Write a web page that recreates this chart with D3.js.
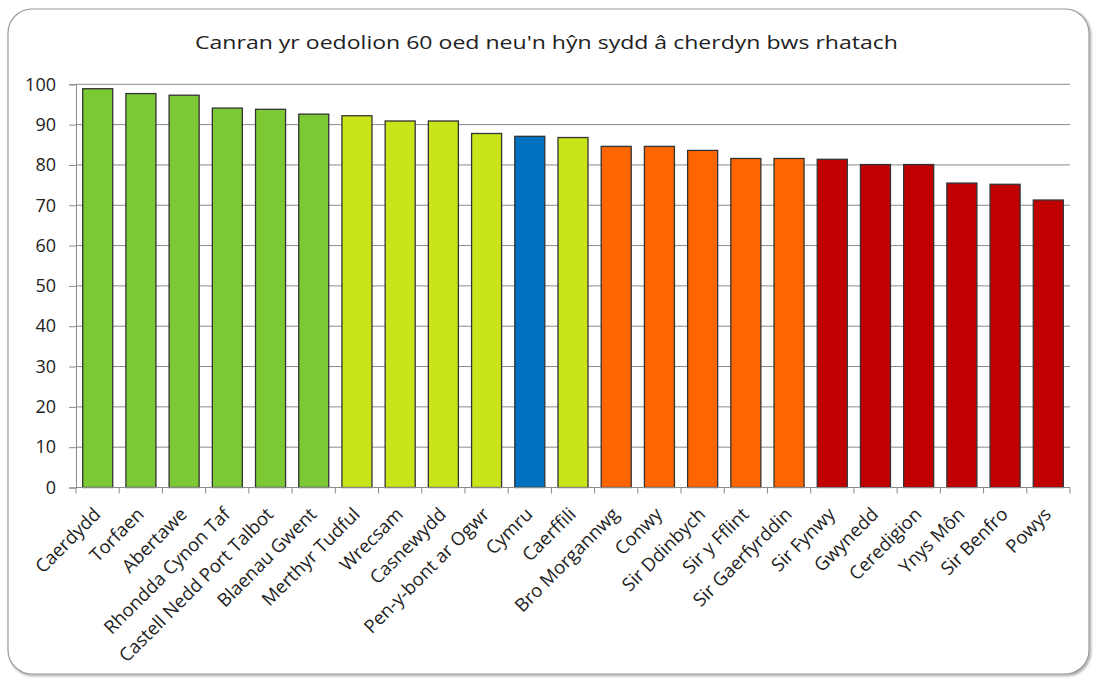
<!DOCTYPE html>
<html><head><meta charset="utf-8">
<script src="https://cdn.jsdelivr.net/npm/d3@7"></script>
<style>body{margin:0;background:#fff}</style>
</head><body>
<svg id="c" width="1100" height="680"></svg>
<script>
const categories = ["Caerdydd","Torfaen","Abertawe","Rhondda Cynon Taf","Castell Nedd Port Talbot","Blaenau Gwent","Merthyr Tudful","Wrecsam","Casnewydd","Pen-y-bont ar Ogwr","Cymru","Caerffili","Bro Morgannwg","Conwy","Sir Ddinbych","Sir y Fflint","Sir Gaerfyrddin","Sir Fynwy","Gwynedd","Ceredigion","Ynys Môn","Sir Benfro","Powys"];
const values = [98.9,97.7,97.3,94.1,93.8,92.6,92.2,90.9,90.9,87.8,87.1,86.8,84.6,84.6,83.6,81.6,81.6,81.4,80.1,80.1,75.5,75.2,71.3];
const groups = ["g","g","g","g","g","g","y","y","y","y","b","y","o","o","o","o","o","r","r","r","r","r","r"];
const yTicks = [0,10,20,30,40,50,60,70,80,90,100];
const title = "Canran yr oedolion 60 oed neu'n hŷn sydd â cherdyn bws rhatach";
const palette = {g:"#7DC835", y:"#CAE41A", b:"#0070C0", o:"#FF6600", r:"#C00000"};

const svg = d3.select("#c");
const font = "'Open Sans', sans-serif";
// frame with soft shadow
const defs = svg.append("defs");
const f = defs.append("filter").attr("id","sh").attr("x","-5%").attr("y","-5%").attr("width","110%").attr("height","110%");
f.append("feDropShadow").attr("dx",1.5).attr("dy",1.5).attr("stdDeviation",1.2).attr("flood-color","#000").attr("flood-opacity",0.35);
svg.append("rect").attr("x",8).attr("y",9).attr("width",1081).attr("height",665)
  .attr("rx",24).attr("fill","#fff").attr("stroke","#9a9a9a").attr("stroke-width",1.2).attr("filter","url(#sh)");

const x0 = 76, x1 = 1070, yTop = 84.3, yBot = 487.5;
const x = d3.scaleBand().domain(categories).range([x0, x1]).paddingInner(0.305).paddingOuter(0.155);
const y = d3.scaleLinear().domain([0,100]).range([yBot, yTop]);

svg.append("text").attr("x",546.5).attr("y",49).attr("text-anchor","middle")
  .attr("font-family",font).attr("font-size",18).attr("fill","#222")
  .attr("textLength",703).attr("lengthAdjust","spacingAndGlyphs").text(title);

// grid
svg.append("g").selectAll("line").data(yTicks.filter(d=>d>0)).join("line")
  .attr("x1",x0).attr("x2",x1).attr("y1",d=>y(d)).attr("y2",d=>y(d))
  .attr("stroke","#8a8a8a").attr("stroke-width",1);

// y axis
const ya = svg.append("g").attr("transform",`translate(${x0},0)`)
  .call(d3.axisLeft(y).tickValues(yTicks).tickSize(7).tickPadding(13));
ya.select(".domain").attr("stroke","#8a8a8a");
ya.selectAll(".tick line").attr("stroke","#8a8a8a");
ya.selectAll("text").attr("font-family",font).attr("font-size",18).attr("fill","#222");

// bars
svg.append("g").selectAll("rect").data(categories).join("rect")
  .attr("x",d=>x(d)).attr("width",x.bandwidth())
  .attr("y",(d,i)=>y(values[i])).attr("height",(d,i)=>yBot-y(values[i]))
  .attr("fill",(d,i)=>palette[groups[i]]).attr("stroke","#333").attr("stroke-width",1.3);

// x axis
svg.append("line").attr("x1",x0).attr("x2",x1).attr("y1",yBot).attr("y2",yBot).attr("stroke","#8a8a8a");
const slot = (x1-x0)/categories.length;
svg.append("g").selectAll("line").data(d3.range(categories.length+1)).join("line")
  .attr("x1",i=>x0+i*slot).attr("x2",i=>x0+i*slot).attr("y1",yBot).attr("y2",yBot+6).attr("stroke","#8a8a8a");

svg.append("g").selectAll("text").data(categories).join("text")
  .attr("transform",d=>`translate(${x(d)+x.bandwidth()/2+4},${yBot+28}) rotate(-45)`)
  .attr("text-anchor","end")
  .attr("font-family",font).attr("font-size",18.5).attr("fill","#222").text(d=>d);
</script>
</body></html>
